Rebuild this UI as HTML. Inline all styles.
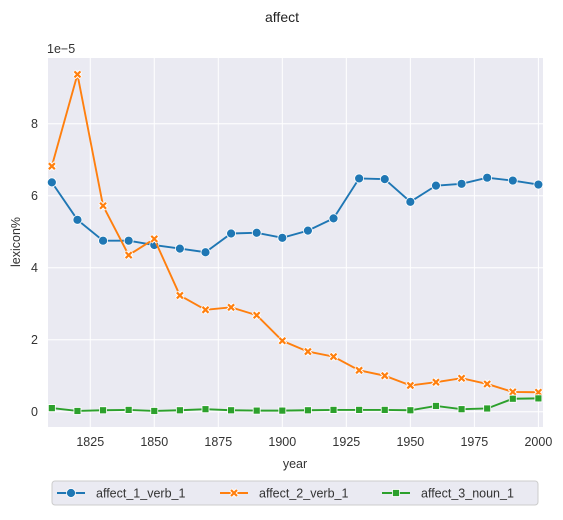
<!DOCTYPE html>
<html><head><meta charset="utf-8"><style>
body{margin:0;background:#fff;font-family:"Liberation Sans","DejaVu Sans",sans-serif}
</style></head><body>
<svg id="c" width="563" height="515" xmlns="http://www.w3.org/2000/svg" font-family="Liberation Sans, DejaVu Sans, sans-serif">
<text x="282" y="22" font-size="14" text-anchor="middle" fill="#222">affect</text>
<rect x="48" y="58" width="495" height="369" fill="#eaeaf2"/>
<g id="grid"></g><g id="ticks"></g><g id="series"></g>
<text x="47" y="53" font-size="12.5" fill="#333">1e−5</text>
<text x="295" y="468" font-size="12.5" text-anchor="middle" fill="#333">year</text>
<text x="20" y="242" font-size="12.5" text-anchor="middle" fill="#333" transform="rotate(-90 20 242)">lexicon%</text>
<g>
<rect x="52" y="481" width="486" height="24" rx="3" fill="#eaeaf2" stroke="#ccc"/>
<g id="legend"></g>
</g>
</svg>
<script>
const years=[1810,1820,1830,1840,1850,1860,1870,1880,1890,1900,1910,1920,1930,1940,1950,1960,1970,1980,1990,2000];
const verb1=[6.37,5.33,4.75,4.75,4.63,4.53,4.43,4.95,4.97,4.83,5.03,5.37,6.48,6.46,5.83,6.28,6.33,6.5,6.42,6.31];
const verb2=[6.82,9.37,5.72,4.35,4.8,3.23,2.83,2.9,2.68,1.97,1.67,1.53,1.15,1.0,0.73,0.82,0.93,0.77,0.55,0.54];
const noun1=[0.1,0.02,0.04,0.05,0.02,0.04,0.07,0.04,0.03,0.03,0.04,0.05,0.05,0.05,0.04,0.16,0.07,0.09,0.36,0.37];
const xTicks=[1825,1850,1875,1900,1925,1950,1975,2000];
const yTicks=[0,2,4,6,8];
const seriesNames=["affect_1_verb_1","affect_2_verb_1","affect_3_noun_1"];
const NS="http://www.w3.org/2000/svg";
const X=v=>48+(v-1808.5)*(495/193.3);
const Y=v=>411.7-v*36;
function mk(t,a,p){const e=document.createElementNS(NS,t);for(const k in a)e.setAttribute(k,a[k]);p.appendChild(e);return e;}
const grid=document.getElementById('grid'),ticks=document.getElementById('ticks'),ser=document.getElementById('series'),leg=document.getElementById('legend');
xTicks.forEach(t=>{const l=mk('line',{x1:X(t),x2:X(t),y1:58,y2:427,stroke:'#fff','stroke-width':1},grid);

const tx=mk('text',{x:X(t),y:446,'font-size':12.5,'text-anchor':'middle',fill:'#333'},ticks);tx.textContent=t;
});
yTicks.forEach(t=>{const l=mk('line',{x1:48,x2:543,y1:Y(t),y2:Y(t),stroke:'#fff','stroke-width':1},grid);

const tx=mk('text',{x:38,y:Y(t)+4.5,'font-size':12.5,'text-anchor':'end',fill:'#333'},ticks);tx.textContent=t;
});
function marker(kind,x,y,c,p){
 if(kind==0)return mk('circle',{cx:x,cy:y,r:4.5,fill:c,stroke:'#fff','stroke-width':0.8},p);
 if(kind==2)return mk('rect',{x:x-3.5,y:y-3.5,width:7,height:7,fill:c,stroke:'#fff','stroke-width':0.8},p);
 const g=mk('g',{},p);
 mk('path',{d:`M${x-3.3},${y-3.3}L${x+3.3},${y+3.3}M${x-3.3},${y+3.3}L${x+3.3},${y-3.3}`,stroke:'#fff','stroke-width':4.2},g);
 mk('path',{d:`M${x-3},${y-3}L${x+3},${y+3}M${x-3},${y+3}L${x+3},${y-3}`,stroke:c,'stroke-width':2.2},g);
 return g;}
const colors=['#1f77b4','#ff7f0e','#2ca02c'];
[verb1,verb2,noun1].forEach((vals,i)=>{
 const g=mk('g',{},ser);
 const p=mk('polyline',{points:years.map((y,j)=>X(y)+','+Y(vals[j])).join(' '),fill:'none',stroke:colors[i],'stroke-width':1.9},g);
 
 years.forEach((y,j)=>{const m=marker(i,X(y),Y(vals[j]),colors[i],g);
  });
 const lx=[57,220,382][i];
 const lg=mk('g',{},leg);
 mk('line',{x1:lx,x2:lx+28,y1:493,y2:493,stroke:colors[i],'stroke-width':1.9},lg);
 marker(i,lx+14,493,colors[i],lg);
 const t=mk('text',{x:lx+39,y:497.5,'font-size':12.5,fill:'#333'},lg);t.textContent=seriesNames[i];
});
</script>
</body></html>
